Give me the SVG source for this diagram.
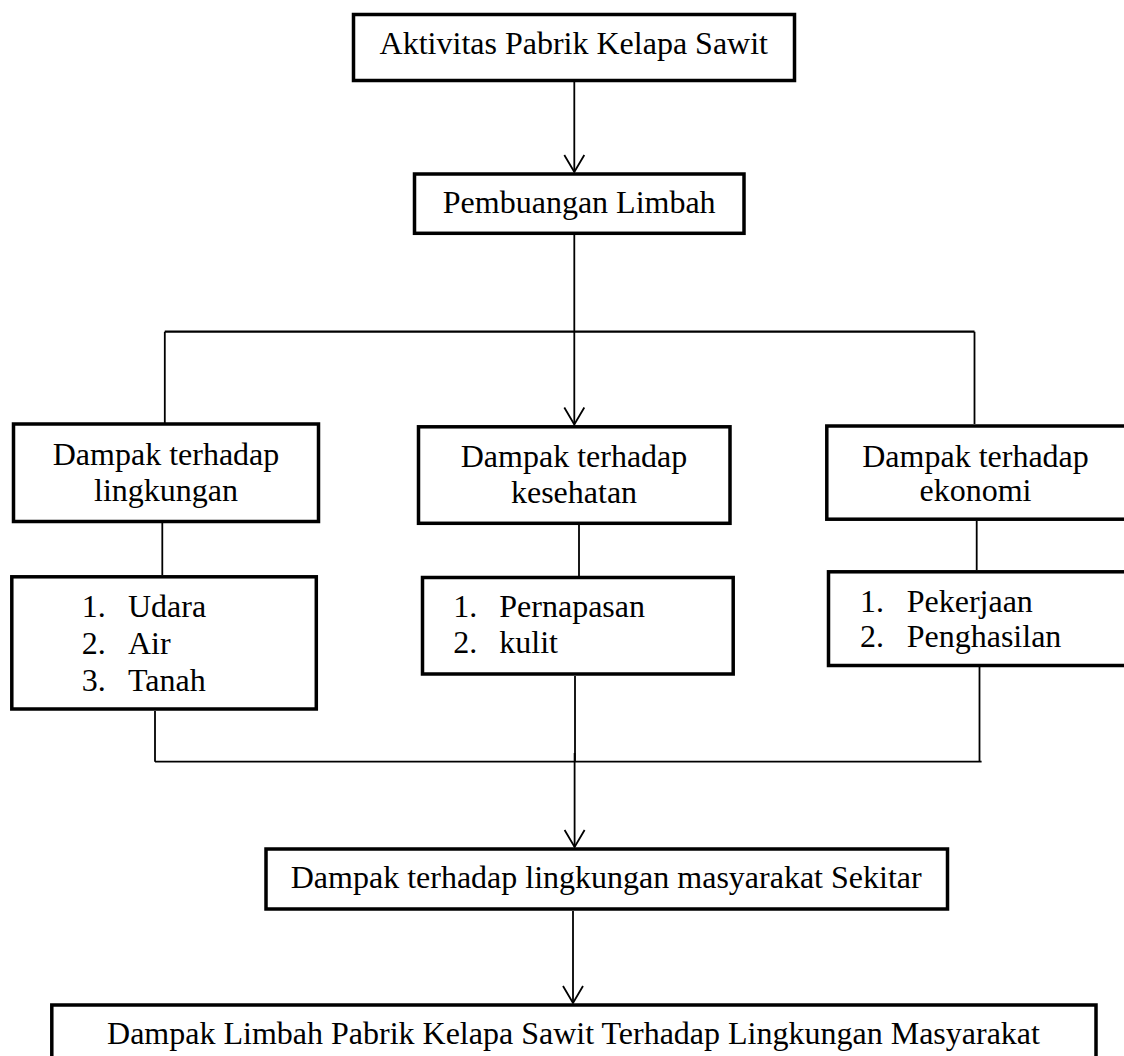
<svg xmlns="http://www.w3.org/2000/svg" width="1124" height="1056" viewBox="0 0 1124 1056">
<defs>
<style>
.box{fill:#fff;stroke:#000;stroke-width:3.5}
.t{font-family:"Liberation Serif","Times New Roman",serif;font-size:32px;fill:#000}
.c{text-anchor:middle}
.ln{fill:none;stroke:#000;stroke-width:1.8}
</style>
<marker id="arr" markerUnits="userSpaceOnUse" markerWidth="40" markerHeight="40" viewBox="-20 -20 40 40" refX="0" refY="0" orient="auto" overflow="visible">
<path d="M-17,-10 L0,0 L-17,10" fill="none" stroke="#000" stroke-width="1.8"/>
</marker>
</defs>
<rect width="1124" height="1056" fill="#fff"/>

<g id="connectors">
<line class="ln" x1="574.3" y1="82" x2="574.3" y2="172" marker-end="url(#arr)"/>
<line class="ln" x1="574.3" y1="235" x2="574.3" y2="424.5" marker-end="url(#arr)"/>
<line class="ln" x1="164.8" y1="331.7" x2="974.5" y2="331.7" style="stroke-width:2.2"/>
<line class="ln" x1="164.8" y1="331.7" x2="164.8" y2="423"/>
<line class="ln" x1="974.5" y1="331.7" x2="974.5" y2="424"/>
<line class="ln" x1="162.3" y1="523" x2="162.3" y2="575"/>
<line class="ln" x1="579" y1="525" x2="579" y2="576"/>
<line class="ln" x1="976.7" y1="521" x2="976.7" y2="570"/>
<line class="ln" x1="155" y1="711" x2="155" y2="761.7"/>
<line class="ln" x1="575" y1="676" x2="575" y2="761.7"/>
<line class="ln" x1="979.5" y1="667" x2="979.5" y2="761.7"/>
<line class="ln" x1="155" y1="761.7" x2="981.6" y2="761.7"/>
<line class="ln" x1="574.6" y1="753" x2="574.6" y2="847" marker-end="url(#arr)"/>
<line class="ln" x1="573" y1="911" x2="573" y2="1003" marker-end="url(#arr)"/>
</g>

<g id="n-aktivitas">
<rect class="box" x="353.5" y="14.5" width="441" height="66"/>
<text class="t c" x="573.8" y="54.3">Aktivitas Pabrik Kelapa Sawit</text>
</g>

<g id="n-pembuangan">
<rect class="box" x="414.5" y="174" width="329.5" height="59.3"/>
<text class="t c" x="579.2" y="213">Pembuangan Limbah</text>
</g>

<g id="n-lingkungan">
<rect class="box" x="13.5" y="424" width="305" height="97.5"/>
<text class="t c" x="166" y="465">Dampak terhadap</text>
<text class="t c" x="166" y="501">lingkungan</text>
</g>

<g id="n-kesehatan">
<rect class="box" x="418.5" y="426.8" width="311.5" height="96.5"/>
<text class="t c" x="574" y="467.3">Dampak terhadap</text>
<text class="t c" x="574" y="502.7">kesehatan</text>
</g>

<g id="n-ekonomi">
<rect class="box" x="826.8" y="426" width="300" height="93.2"/>
<text class="t c" x="975.5" y="466.7">Dampak terhadap</text>
<text class="t c" x="975.5" y="501">ekonomi</text>
</g>

<g id="n-list-lingkungan">
<rect class="box" x="11.8" y="576.8" width="304.5" height="132.2"/>
<text class="t" x="81.7" y="617">1.</text><text class="t" x="128" y="617">Udara</text>
<text class="t" x="81.7" y="654">2.</text><text class="t" x="128" y="654">Air</text>
<text class="t" x="81.7" y="690.7">3.</text><text class="t" x="128" y="690.7">Tanah</text>
</g>

<g id="n-list-kesehatan">
<rect class="box" x="422.5" y="577.5" width="310.7" height="96.5"/>
<text class="t" x="453.3" y="617.3">1.</text><text class="t" x="499.3" y="617.3">Pernapasan</text>
<text class="t" x="453.3" y="653.3">2.</text><text class="t" x="499.3" y="653.3">kulit</text>
</g>

<g id="n-list-ekonomi">
<rect class="box" x="828.5" y="571.8" width="300" height="93.7"/>
<text class="t" x="860" y="611.7">1.</text><text class="t" x="906.7" y="611.7">Pekerjaan</text>
<text class="t" x="860" y="647.3">2.</text><text class="t" x="906.7" y="647.3">Penghasilan</text>
</g>

<g id="n-sekitar">
<rect class="box" x="266" y="849" width="681.5" height="60"/>
<text class="t c" x="606.2" y="888.3">Dampak terhadap lingkungan masyarakat Sekitar</text>
</g>

<g id="n-final">
<rect class="box" x="51.8" y="1005" width="1044.2" height="80"/>
<text class="t c" x="573.5" y="1044">Dampak Limbah Pabrik Kelapa Sawit Terhadap Lingkungan Masyarakat</text>
</g>
</svg>
